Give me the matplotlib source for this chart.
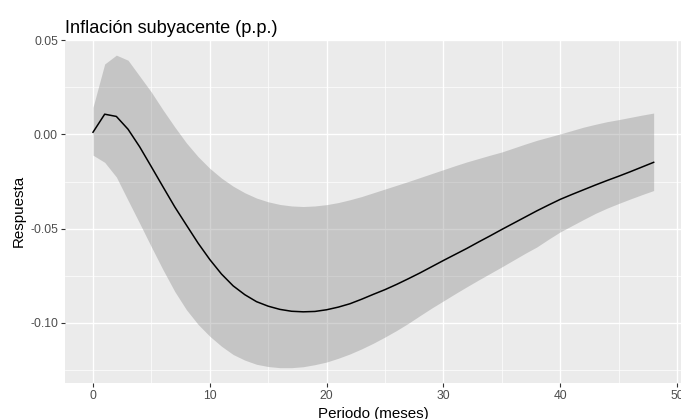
import numpy as np
import matplotlib
matplotlib.use("Agg")
import matplotlib.pyplot as plt
from matplotlib.ticker import MultipleLocator, FormatStrFormatter

# impulse response, core inflation (p.p.), months 0..48
periodo = list(range(0, 49))
respuesta = [0.0012, 0.0108, 0.0096, 0.0028, -0.0066, -0.0172, -0.0279, -0.0385, -0.0482, -0.0578,
             -0.0665, -0.0742, -0.0805, -0.0852, -0.0889, -0.0913, -0.0930, -0.0940, -0.0943, -0.0941,
             -0.0932, -0.0918, -0.0900, -0.0876, -0.0850, -0.0825, -0.0797, -0.0767, -0.0736, -0.0703,
             -0.0670, -0.0638, -0.0606, -0.0572, -0.0539, -0.0505, -0.0472, -0.0439, -0.0406, -0.0375,
             -0.0345, -0.0319, -0.0294, -0.0269, -0.0245, -0.0222, -0.0198, -0.0173, -0.0148]
banda_sup = [0.0145, 0.0375, 0.0422, 0.0395, 0.0310, 0.0225, 0.0130, 0.0040, -0.0045, -0.0118,
             -0.0180, -0.0232, -0.0275, -0.0310, -0.0338, -0.0358, -0.0372, -0.0380, -0.0383, -0.0380,
             -0.0373, -0.0362, -0.0347, -0.0330, -0.0310, -0.0290, -0.0270, -0.0250, -0.0229, -0.0208,
             -0.0187, -0.0166, -0.0146, -0.0128, -0.0110, -0.0093, -0.0072, -0.0051, -0.0031, -0.0014,
             0.0003, 0.0021, 0.0039, 0.0054, 0.0068, 0.0079, 0.0091, 0.0103, 0.0114]
banda_inf = [-0.0110, -0.0148, -0.0226, -0.0350, -0.0473, -0.0598, -0.0720, -0.0835, -0.0932, -0.1010,
             -0.1073, -0.1126, -0.1170, -0.1200, -0.1222, -0.1234, -0.1240, -0.1240, -0.1235, -0.1224,
             -0.1210, -0.1190, -0.1167, -0.1140, -0.1110, -0.1077, -0.1042, -0.1004, -0.0963, -0.0923,
             -0.0885, -0.0847, -0.0810, -0.0774, -0.0739, -0.0704, -0.0668, -0.0632, -0.0598, -0.0557,
             -0.0518, -0.0485, -0.0452, -0.0420, -0.0392, -0.0367, -0.0343, -0.0320, -0.0298]

titulo = "Inflación subyacente (p.p.)"
xlabel = "Periodo (meses)"
ylabel = "Respuesta"

plt.rcParams["font.family"] = ["Liberation Sans", "DejaVu Sans"]
plt.rcParams["axes.unicode_minus"] = False

fig = plt.figure(figsize=(6.81, 4.19), dpi=100)
ax = fig.add_axes([0.0954, 0.0852, 0.9056, 0.8205])
ax.set_facecolor("#EBEBEB")
for s in ax.spines.values():
    s.set_visible(False)

ax.fill_between(periodo, banda_inf, banda_sup, color="#808080", alpha=0.35, linewidth=0, zorder=2)
ax.plot(periodo, respuesta, color="black", linewidth=1.1, zorder=3)

# ggplot-like 5% expansion
xr = max(periodo) - min(periodo)
ax.set_xlim(min(periodo) - 0.05 * xr, max(periodo) + 0.05 * xr)
lo, hi = min(banda_inf), max(banda_sup)
ax.set_ylim(lo - 0.05 * (hi - lo), hi + 0.05 * (hi - lo))

ax.xaxis.set_major_locator(MultipleLocator(10))
ax.xaxis.set_minor_locator(MultipleLocator(5))
ax.yaxis.set_major_locator(MultipleLocator(0.05))
ax.yaxis.set_minor_locator(MultipleLocator(0.025))
ax.yaxis.set_major_formatter(FormatStrFormatter("%.2f"))

ax.set_axisbelow(True)
ax.grid(which="major", color="white", linewidth=1.0)
ax.grid(which="minor", color="white", linewidth=0.5)
ax.tick_params(which="major", length=2.9, width=0.8, color="#333333", labelcolor="#4D4D4D",
               labelsize=8.7, pad=2.2)
ax.tick_params(which="minor", length=0)

ax.set_title(titulo, loc="left", fontsize=13.1, pad=4.5)
ax.set_xlabel(xlabel, fontsize=10.9, labelpad=3)
ax.set_ylabel(ylabel, fontsize=10.9, labelpad=3)

fig.savefig("out.png", dpi=100)
